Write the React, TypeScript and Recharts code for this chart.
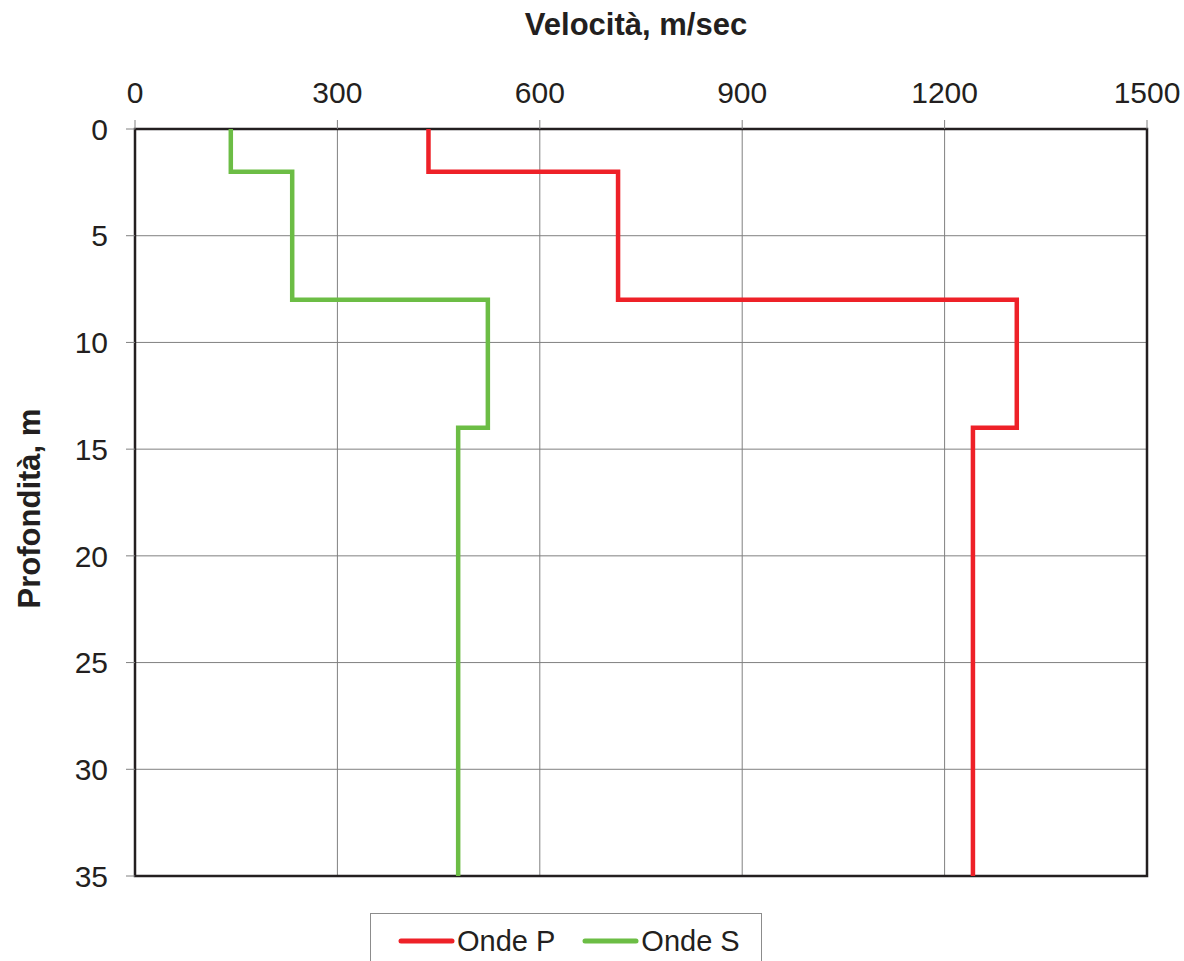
import React from "react";
import {
  LineChart,
  Line,
  XAxis,
  YAxis,
  CartesianGrid,
  ReferenceArea,
} from "recharts";

// layer boundaries (m) and velocities (m/sec) read from the profile
const layerTop = [0, 2, 8, 14];
const layerBottom = [2, 8, 14, 35];
const velP = [435, 716, 1307, 1242];
const velS = [142, 233, 523, 479];

const velTicks = [0, 300, 600, 900, 1200, 1500];
const depthTicks = [0, 5, 10, 15, 20, 25, 30, 35];

const seriesNames = ["Onde P", "Onde S"];
const seriesColors = ["#ee2128", "#6cbd45"];

const FONT = '"Liberation Sans", Arial, Helvetica, sans-serif';
const TEXT = "#231f20";

// step profile: each layer gives a top and a bottom point at the same velocity
function stepProfile(vel: number[]) {
  const pts: { v: number; d: number }[] = [];
  vel.forEach((v, i) => {
    pts.push({ v, d: layerTop[i] });
    pts.push({ v, d: layerBottom[i] });
  });
  return pts;
}

const dataP = stepProfile(velP);
const dataS = stepProfile(velS);

function DepthLabel(props: any) {
  const vb = props.viewBox || { x: 0, y: 121, width: 127, height: 747 };
  const cx = 21;
  const cy = vb.y + vb.height / 2 + 6;
  return (
    <text
      x={cx}
      y={cy}
      transform={`rotate(-90 ${cx} ${cy})`}
      textAnchor="middle"
      dominantBaseline="central"
      fontFamily={FONT}
      fontWeight="bold"
      fontSize={31}
      fill={TEXT}
    >
      Profondità, m
    </text>
  );
}

export default function App() {
  return (
    <div style={{ position: "relative", width: 1184, height: 961, overflow: "hidden", background: "#fff" }}>
      <style>{`body{margin:0;overflow:hidden}`}</style>
      <div style={{ position: "absolute", left: 8, top: 8 }}>
        <LineChart
          width={1176}
          height={953}
          margin={{ top: 0, right: 37, bottom: 85, left: 0 }}
        >
          <CartesianGrid stroke="#808080" strokeWidth={1} />
          <XAxis
            type="number"
            dataKey="v"
            orientation="top"
            domain={[0, 1500]}
            ticks={velTicks}
            height={121}
            axisLine={false}
            tickLine={{ stroke: "#808080" }}
            tickSize={9}
            tickMargin={17}
            tick={{ fill: TEXT, fontSize: 30, fontFamily: FONT }}
            label={{
              value: "Velocità, m/sec",
              position: "insideTop",
              offset: 5,
              dx: -5,
              fill: TEXT,
              fontSize: 31,
              fontWeight: "bold",
              fontFamily: FONT,
            }}
          />
          <YAxis
            type="number"
            dataKey="d"
            reversed
            domain={[0, 35]}
            ticks={depthTicks}
            width={127}
            axisLine={false}
            tickLine={{ stroke: "#808080" }}
            tickSize={9}
            tickMargin={18}
            tick={{ fill: TEXT, fontSize: 30, fontFamily: FONT }}
            label={{ content: DepthLabel }}
          />
          <ReferenceArea
            x1={0}
            x2={1500}
            y1={0}
            y2={35}
            fill="none"
            stroke={TEXT}
            strokeWidth={2.5}
            fillOpacity={0}
          />
          <Line
            data={dataP}
            dataKey="d"
            name={seriesNames[0]}
            type="linear"
            stroke={seriesColors[0]}
            strokeWidth={4.5}
            dot={false}
            activeDot={false}
            isAnimationActive={false}
          />
          <Line
            data={dataS}
            dataKey="d"
            name={seriesNames[1]}
            type="linear"
            stroke={seriesColors[1]}
            strokeWidth={4.5}
            dot={false}
            activeDot={false}
            isAnimationActive={false}
          />
        </LineChart>
      </div>
      <div
        style={{
          position: "absolute",
          left: 370,
          top: 913,
          width: 392,
          height: 70,
          boxSizing: "border-box",
          border: "1px solid #8c8c8c",
          display: "flex",
          alignItems: "flex-start",
          paddingLeft: 27,
          fontFamily: FONT,
          fontSize: 29,
          color: TEXT,
        }}
      >
        {seriesNames.map((name, i) => (
          <div
            key={name}
            style={{ display: "flex", alignItems: "center", height: 54, marginRight: i === 0 ? 27 : 0 }}
          >
            <svg width={57} height={10} style={{ marginRight: 2 }}>
              <line x1={3} y1={5} x2={54} y2={5} stroke={seriesColors[i]} strokeWidth={5} strokeLinecap="round" />
            </svg>
            <span>{name}</span>
          </div>
        ))}
      </div>
    </div>
  );
}
